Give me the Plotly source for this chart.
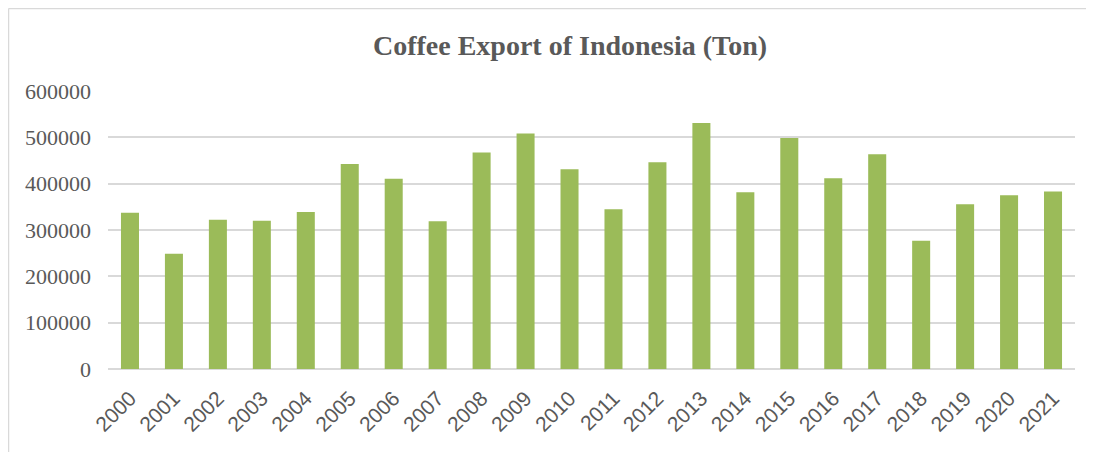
import plotly.graph_objects as go

years = ["2000", "2001", "2002", "2003", "2004", "2005", "2006", "2007", "2008", "2009", "2010",
         "2011", "2012", "2013", "2014", "2015", "2016", "2017", "2018", "2019", "2020", "2021"]
exports = [337500, 248800, 322200, 320100, 338800, 442400, 410700, 318700, 467400, 508500, 431200,
           344700, 446400, 530700, 381500, 498300, 411800, 463700, 277000, 355500, 375000, 383000]
y_ticks = [0, 100000, 200000, 300000, 400000, 500000, 600000]

fig = go.Figure(go.Bar(x=years, y=exports, marker=dict(color="#9bbb59", line=dict(width=0))))

# the page body adds an 8px margin; figure coordinates are page coordinates minus 8
W, H = 1086, 444
ml, mr, mt, mb = 100, 19, 83, 83
pw, ph = W - ml - mr, H - mt - mb

def px(x):
    return (x - ml) / pw

def py(y):
    return (H - mb - y) / ph

fig.update_layout(
    width=W, height=H,
    margin=dict(l=ml, r=mr, t=mt, b=mb),
    paper_bgcolor="white", plot_bgcolor="white",
    bargap=0.59,
    showlegend=False,
    title=dict(text="<b>Coffee Export of Indonesia (Ton)</b>", x=562 / W, xref="container", xanchor="center",
               y=1 - 37 / H, yref="container", yanchor="middle",
               font=dict(family="Liberation Serif", size=28, color="#595959")),
    xaxis=dict(type="category", tickangle=-45, showgrid=False, ticks="",
               tickfont=dict(family="Liberation Sans", size=21, color="#595959"),
               showline=False, ticklabelstandoff=12),
    yaxis=dict(range=[0, 600000], tickvals=y_ticks, ticktext=[str(v) for v in y_ticks],
               showgrid=True, gridcolor="#d9d9d9", gridwidth=1.5,
               zeroline=True, zerolinecolor="#d9d9d9", zerolinewidth=1.5,
               tickfont=dict(family="Liberation Serif", size=22, color="#595959"),
               ticks="", ticklen=0, showline=False, ticklabelstandoff=16),
    shapes=[
        dict(type="line", xref="paper", yref="paper", x0=px(0.5), x1=px(W), y0=py(0.5), y1=py(0.5),
             line=dict(color="#d9d9d9", width=1.5), layer="below"),
        dict(type="line", xref="paper", yref="paper", x0=px(0.5), x1=px(0.5), y0=py(0.5), y1=py(H),
             line=dict(color="#d9d9d9", width=1.5), layer="below"),
    ],
)

fig.write_html("out.html")
